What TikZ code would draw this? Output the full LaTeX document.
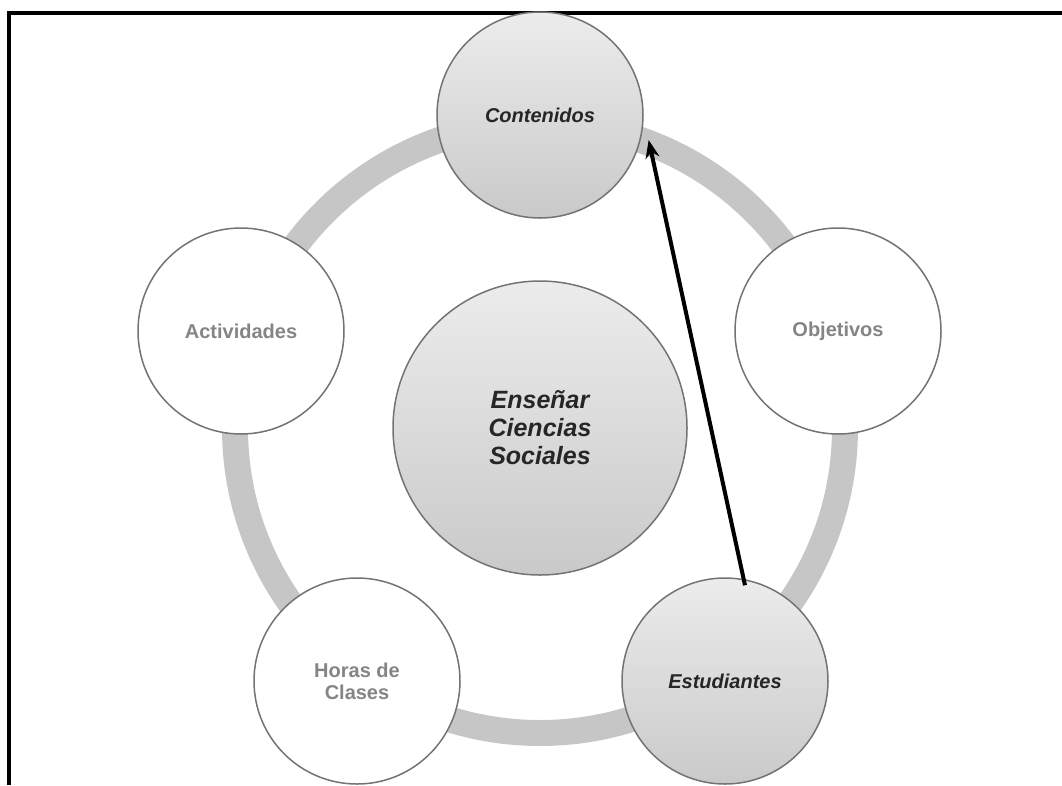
\documentclass[tikz,border=0pt]{standalone}
\usepackage{fontspec}
\setmainfont{Liberation Sans}
\usetikzlibrary{arrows.meta}

\begin{document}
\begin{tikzpicture}[x = 1pt, y = -1pt,
        ring/.style = {line width = 26pt, draw = gray!45},
        topic/.style = {circle, draw = black!55, line width = 1.5pt, minimum size = 206pt,
            inner sep = 0pt, align = center, fill = white, text = black!48,
            font = \bfseries\fontsize{20}{22}\selectfont},
        focus/.style = {topic, top color = gray!15, bottom color = gray!42, text = black!85,
            font = \bfseries\itshape\fontsize{20}{22}\selectfont},
        flecha/.style = {line width = 4pt, -{Stealth[length = 18pt, width = 14pt]}}]
        \useasboundingbox (0, 0) rectangle (1062, 785);
        \draw[line width = 4pt] (1062, 13) -- (9, 13) -- (9, 785);
        \coordinate (O) at (540, 428);
        \draw[ring] (O) circle (305pt);
        \node[focus, minimum size = 294pt, font = \bfseries\itshape\fontsize{25}{28}\selectfont] (ensenar) at (O) {Enseñar\\Ciencias\\Sociales};
        \node[focus] (contenidos) at (540, 115) {Contenidos};
        \node[topic] (objetivos) at (838, 331) {Objetivos};
        \node[focus] (estudiantes) at (725, 681) {Estudiantes};
        \node[topic] (horas) at (357, 681) {Horas de\\Clases};
        \node[topic] (actividades) at (241, 331) {Actividades};
        \draw[flecha] ([shift = {(20, 8)}] estudiantes.north) -- ([shift = {(8, 0)}] contenidos.-14);
    \end{tikzpicture}
\end{document}
